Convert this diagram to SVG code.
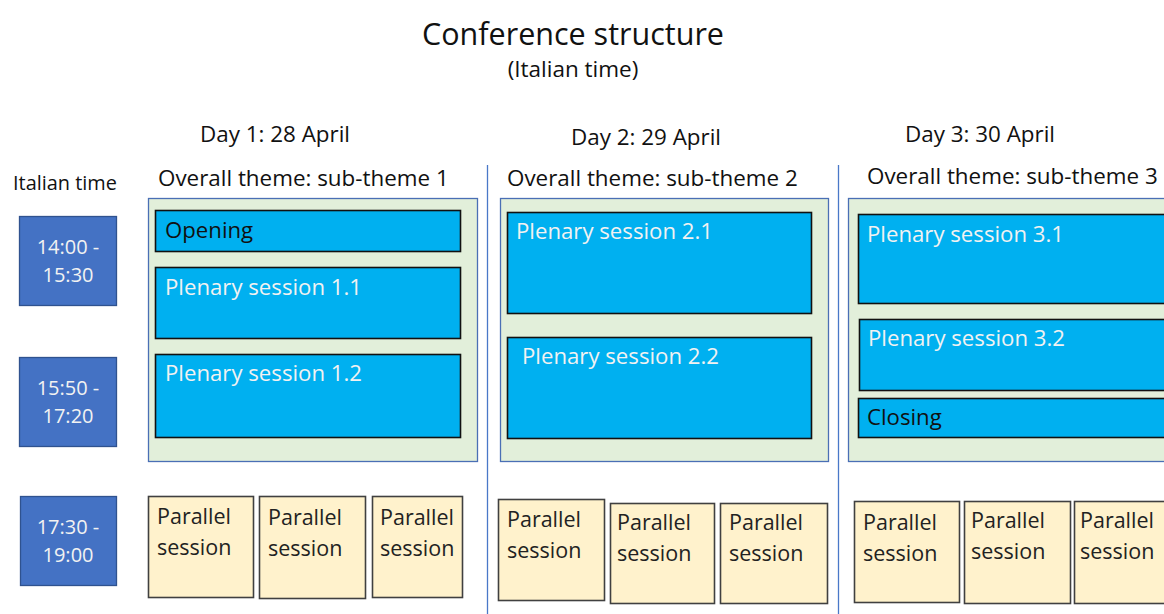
<svg xmlns="http://www.w3.org/2000/svg" width="1164" height="614" viewBox="0 0 1164 614">
<style>
text{font-family:"Open Sans","Noto Sans","Liberation Sans",sans-serif;}
.h{font-size:22.4px;fill:#111;}
.panel{fill:#e2efda;stroke:#4a6fb5;stroke-width:1.3;}
.sess{fill:#00b0f0;stroke:#111;stroke-width:1.6;}
.st{font-size:22.2px;fill:#f2f2f2;}
.time{fill:#4472c4;stroke:#2f528f;stroke-width:1.3;}
.tt{font-size:20px;fill:#f2f2f2;text-anchor:middle;}
.par{fill:#fff2cc;stroke:#404040;stroke-width:1.6;}
.pt{font-size:21.5px;fill:#222;}
.sep{stroke:#4a78c8;stroke-width:1.3;}
</style>
<rect width="1164" height="614" fill="#fff"/>
<g id="title">
<text x="573" y="45" text-anchor="middle" style="font-size:30.5px;fill:#111">Conference structure</text>
<text x="573" y="77" text-anchor="middle" style="font-size:22.5px;fill:#111">(Italian time)</text>
</g>
<g id="headers">
<text class="h" x="200" y="142">Day 1: 28 April</text>
<text class="h" x="571" y="145">Day 2: 29 April</text>
<text class="h" x="905" y="142">Day 3: 30 April</text>
<text x="13" y="190" style="font-size:19.9px;fill:#111">Italian time</text>
<text class="h" x="158" y="186">Overall theme: sub-theme 1</text>
<text class="h" x="507" y="186">Overall theme: sub-theme 2</text>
<text class="h" x="867" y="184">Overall theme: sub-theme 3</text>
</g>
<g id="connectors">
<line class="sep" x1="487.5" y1="165" x2="487.5" y2="614"/>
<line class="sep" x1="838.5" y1="165" x2="838.5" y2="614"/>
</g>
<g id="time1"><rect class="time" x="19.5" y="216.5" width="97" height="89"/><text class="tt" x="68" y="254">14:00 -</text><text class="tt" x="68" y="282">15:30</text></g>
<g id="time2"><rect class="time" x="19.5" y="357.5" width="97" height="89"/><text class="tt" x="68" y="395">15:50 -</text><text class="tt" x="68" y="423">17:20</text></g>
<g id="time3"><rect class="time" x="20.5" y="496.5" width="96" height="89"/><text class="tt" x="68" y="534">17:30 -</text><text class="tt" x="68" y="562">19:00</text></g>
<g id="panel1"><rect class="panel" x="148.5" y="198.5" width="329" height="263"/></g>
<g id="panel2"><rect class="panel" x="500.5" y="198.5" width="328" height="263"/></g>
<g id="panel3"><rect class="panel" x="848.5" y="198.5" width="320" height="263"/></g>
<g id="opening"><rect class="sess" x="155.5" y="210.5" width="305" height="41"/><text class="st" x="165" y="238" style="fill:#111">Opening</text></g>
<g id="p11"><rect class="sess" x="155.5" y="267.5" width="305" height="71"/><text class="st" x="165" y="295">Plenary session 1.1</text></g>
<g id="p12"><rect class="sess" x="155.5" y="354.5" width="305" height="83"/><text class="st" x="165" y="381">Plenary session 1.2</text></g>
<g id="p21"><rect class="sess" x="507.5" y="212.5" width="304" height="101"/><text class="st" x="516" y="239">Plenary session 2.1</text></g>
<g id="p22"><rect class="sess" x="507.5" y="337.5" width="304" height="101"/><text class="st" x="522" y="364">Plenary session 2.2</text></g>
<g id="p31"><rect class="sess" x="858.5" y="214.5" width="310" height="89"/><text class="st" x="867" y="242">Plenary session 3.1</text></g>
<g id="p32"><rect class="sess" x="859.5" y="319.5" width="310" height="71"/><text class="st" x="868" y="346">Plenary session 3.2</text></g>
<g id="closing"><rect class="sess" x="858.5" y="398.5" width="310" height="39"/><text class="st" x="867" y="425" style="fill:#111">Closing</text></g>
<g id="ps11"><rect class="par" x="148.5" y="496.5" width="105" height="101"/><text class="pt" x="157" y="524">Parallel</text><text class="pt" x="157" y="555">session</text></g>
<g id="ps12"><rect class="par" x="259.5" y="496.5" width="106" height="102"/><text class="pt" x="268" y="525">Parallel</text><text class="pt" x="268" y="556">session</text></g>
<g id="ps13"><rect class="par" x="372.5" y="496.5" width="90" height="101"/><text class="pt" x="380" y="525">Parallel</text><text class="pt" x="380" y="556">session</text></g>
<g id="ps21"><rect class="par" x="498.5" y="499.5" width="106" height="101"/><text class="pt" x="507" y="527">Parallel</text><text class="pt" x="507" y="558">session</text></g>
<g id="ps22"><rect class="par" x="610.5" y="503.5" width="104" height="100"/><text class="pt" x="617" y="530">Parallel</text><text class="pt" x="617" y="561">session</text></g>
<g id="ps23"><rect class="par" x="720.5" y="503.5" width="107" height="100"/><text class="pt" x="729" y="530">Parallel</text><text class="pt" x="729" y="561">session</text></g>
<g id="ps31"><rect class="par" x="854.5" y="501.5" width="105" height="101"/><text class="pt" x="863" y="530">Parallel</text><text class="pt" x="863" y="561">session</text></g>
<g id="ps32"><rect class="par" x="964.5" y="501.5" width="106" height="102"/><text class="pt" x="971" y="528">Parallel</text><text class="pt" x="971" y="559">session</text></g>
<g id="ps33"><rect class="par" x="1074.5" y="501.5" width="95" height="102"/><text class="pt" x="1080" y="528">Parallel</text><text class="pt" x="1080" y="559">session</text></g>
</svg>
